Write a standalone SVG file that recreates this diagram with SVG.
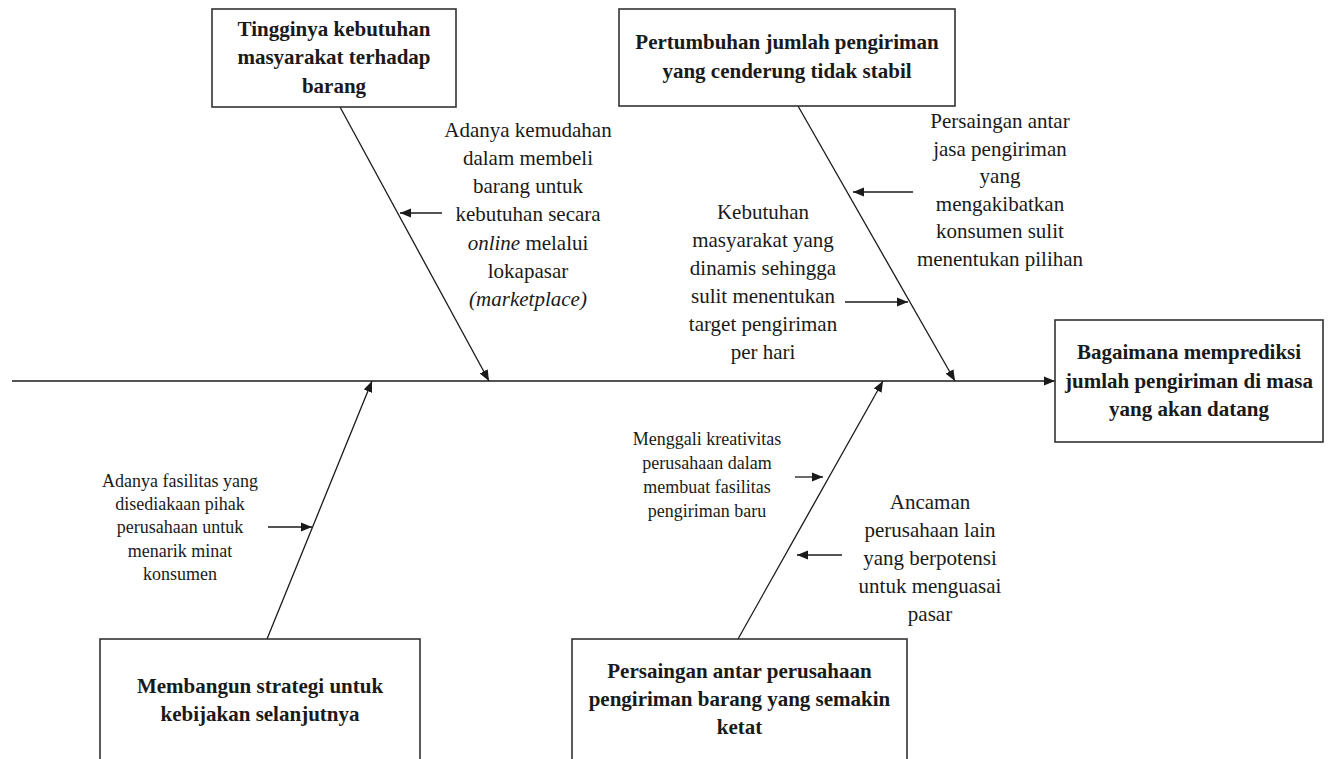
<svg xmlns="http://www.w3.org/2000/svg" width="1330" height="759" viewBox="0 0 1330 759">
<style>
.box{fill:#fff;stroke:#333;stroke-width:1.6}
.t{font-family:"Liberation Serif","Times New Roman",serif;fill:#1a1a1a;text-anchor:middle}
.b{font-weight:bold;font-size:21px}
.m{font-size:21px}
.s{font-size:18px}
.ln{stroke:#1a1a1a;stroke-width:1.3;fill:none;marker-end:url(#ah)}
</style>
<defs>
<marker id="ah" markerUnits="userSpaceOnUse" markerWidth="12" markerHeight="10" refX="11" refY="5" orient="auto">
<path d="M0,0.5 L11,5 L0,9.5 Z" fill="#1a1a1a"/>
</marker>
</defs>
<rect width="1330" height="759" fill="#fff"/>
<g id="connectors">
<line class="ln" x1="12" y1="381" x2="1055" y2="381"/>
<line class="ln" x1="340" y1="107" x2="489" y2="381"/>
<line class="ln" x1="798" y1="106" x2="955" y2="381"/>
<line class="ln" x1="267" y1="639" x2="372" y2="381"/>
<line class="ln" x1="738" y1="639" x2="883" y2="381"/>
<line class="ln" x1="442" y1="213" x2="400" y2="213"/>
<line class="ln" x1="913" y1="192" x2="853" y2="192"/>
<line class="ln" x1="845" y1="302" x2="908" y2="302"/>
<line class="ln" x1="268" y1="527" x2="312" y2="527"/>
<line class="ln" x1="795" y1="477" x2="823" y2="477"/>
<line class="ln" x1="842" y1="555" x2="797" y2="555"/>
</g>
<g id="head">
<rect class="box" x="1055" y="320" width="268" height="122"/>
<text class="t b"><tspan x="1189" y="359">Bagaimana memprediksi</tspan><tspan x="1189" y="388">jumlah pengiriman di masa</tspan><tspan x="1189" y="416">yang akan datang</tspan></text>
</g>
<g id="cause-top-left">
<rect class="box" x="212" y="9" width="244" height="98"/>
<text class="t b"><tspan x="334" y="36">Tingginya kebutuhan</tspan><tspan x="334" y="64">masyarakat terhadap</tspan><tspan x="334" y="93">barang</tspan></text>
</g>
<g id="cause-top-right">
<rect class="box" x="619" y="9" width="336" height="97"/>
<text class="t b"><tspan x="787" y="49">Pertumbuhan jumlah pengiriman</tspan><tspan x="787" y="78">yang cenderung tidak stabil</tspan></text>
</g>
<g id="cause-bottom-left">
<rect class="box" x="100" y="639" width="320" height="135"/>
<text class="t b"><tspan x="260" y="693">Membangun strategi untuk</tspan><tspan x="260" y="721">kebijakan selanjutnya</tspan></text>
</g>
<g id="cause-bottom-right">
<rect class="box" x="572" y="639" width="335" height="135"/>
<text class="t b"><tspan x="739.5" y="678">Persaingan antar perusahaan</tspan><tspan x="739.5" y="706">pengiriman barang yang semakin</tspan><tspan x="739.5" y="734">ketat</tspan></text>
</g>
<g id="sub-marketplace">
<text class="t m"><tspan x="528" y="137">Adanya kemudahan</tspan><tspan x="528" y="165">dalam membeli</tspan><tspan x="528" y="193">barang untuk</tspan><tspan x="528" y="221">kebutuhan secara</tspan><tspan x="528" y="250"><tspan font-style="italic">online</tspan> melalui</tspan><tspan x="528" y="278">lokapasar</tspan><tspan x="528" y="306" font-style="italic">(marketplace)</tspan></text>
</g>
<g id="sub-persaingan-jasa">
<text class="t m"><tspan x="1000" y="128">Persaingan antar</tspan><tspan x="1000" y="156">jasa pengiriman</tspan><tspan x="1000" y="183">yang</tspan><tspan x="1000" y="211">mengakibatkan</tspan><tspan x="1000" y="238">konsumen sulit</tspan><tspan x="1000" y="266">menentukan pilihan</tspan></text>
</g>
<g id="sub-kebutuhan-dinamis">
<text class="t m"><tspan x="763" y="219">Kebutuhan</tspan><tspan x="763" y="247">masyarakat yang</tspan><tspan x="763" y="275">dinamis sehingga</tspan><tspan x="763" y="303">sulit menentukan</tspan><tspan x="763" y="331">target pengiriman</tspan><tspan x="763" y="359">per hari</tspan></text>
</g>
<g id="sub-fasilitas">
<text class="t s"><tspan x="180" y="487">Adanya fasilitas yang</tspan><tspan x="180" y="510">disediakaan pihak</tspan><tspan x="180" y="533">perusahaan untuk</tspan><tspan x="180" y="557">menarik minat</tspan><tspan x="180" y="580">konsumen</tspan></text>
</g>
<g id="sub-kreativitas">
<text class="t s"><tspan x="707" y="445">Menggali kreativitas</tspan><tspan x="707" y="469">perusahaan dalam</tspan><tspan x="707" y="493">membuat fasilitas</tspan><tspan x="707" y="517">pengiriman baru</tspan></text>
</g>
<g id="sub-ancaman">
<text class="t m"><tspan x="930" y="509">Ancaman</tspan><tspan x="930" y="537">perusahaan lain</tspan><tspan x="930" y="565">yang berpotensi</tspan><tspan x="930" y="593">untuk menguasai</tspan><tspan x="930" y="621">pasar</tspan></text>
</g>
</svg>
